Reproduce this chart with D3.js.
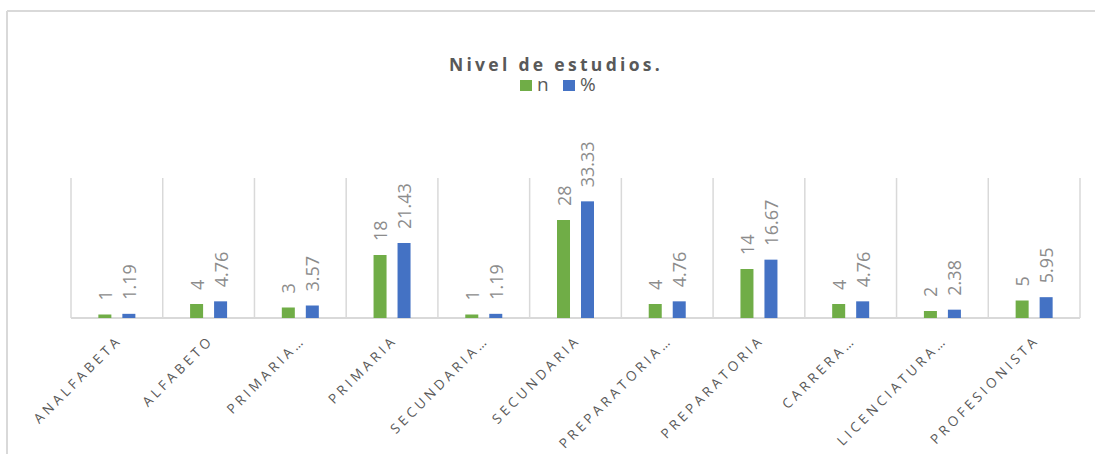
<!DOCTYPE html>
<html>
<head>
<meta charset="utf-8">
<script src="https://cdn.jsdelivr.net/npm/d3@7"></script>
<style>
  html, body { margin: 0; padding: 0; background: #ffffff; }
  svg { display: block; }
</style>
</head>
<body>
<svg id="chart" width="1095" height="454"></svg>
<script>
// Nivel de estudios: count (n) and share (%) per education level
const categories = ["ANALFABETA", "ALFABETO", "PRIMARIA…", "PRIMARIA", "SECUNDARIA…", "SECUNDARIA",
                    "PREPARATORIA…", "PREPARATORIA", "CARRERA…", "LICENCIATURA…", "PROFESIONISTA"];
const seriesNames = ["n", "%"];
const nValues = [1, 4, 3, 18, 1, 28, 4, 14, 4, 2, 5];
const pctValues = [1.19, 4.76, 3.57, 21.43, 1.19, 33.33, 4.76, 16.67, 4.76, 2.38, 5.95];
const pctLabels = ["1.19", "4.76", "3.57", "21.43", "1.19", "33.33", "4.76", "16.67", "4.76", "2.38", "5.95"];
const colors = ["#70ad47", "#4472c4"];

const svg = d3.select("#chart");
const plot = { left: 71, right: 1080, top: 178, bottom: 318 };
const gridColor = "#d9d9d9";
const textGray = "#595959";
const labelGray = "#8c8c8c";

// Outer frame (top and left edges)
svg.append("line").attr("x1", 7).attr("x2", 1095).attr("y1", 11).attr("y2", 11)
  .attr("stroke", gridColor).attr("stroke-width", 2);
svg.append("line").attr("x1", 7).attr("x2", 7).attr("y1", 11).attr("y2", 454)
  .attr("stroke", gridColor).attr("stroke-width", 2);

const x0 = d3.scaleBand().domain(categories).range([plot.left, plot.right]).padding(0);
const bw = x0.bandwidth();
const x1 = d3.scaleBand().domain(seriesNames).range([bw / 2 - 18.5, bw / 2 + 18.5]).paddingInner(0.458).paddingOuter(0);
const y = d3.scaleLinear().domain([0, 40]).range([plot.bottom, plot.top]);

// Category separators
const seps = categories.map(c => x0(c)).concat([plot.right]);
svg.append("g").selectAll("line").data(seps).join("line")
  .attr("x1", d => d).attr("x2", d => d)
  .attr("y1", y(40)).attr("y2", y(0))
  .attr("stroke", gridColor).attr("stroke-width", 1.5);

// Baseline
svg.append("line").attr("x1", plot.left).attr("x2", plot.right)
  .attr("y1", y(0)).attr("y2", y(0))
  .attr("stroke", gridColor).attr("stroke-width", 2);

const rows = categories.map((c, i) => ({
  cat: c,
  vals: [
    { s: "n", v: nValues[i], label: String(nValues[i]), color: colors[0] },
    { s: "%", v: pctValues[i], label: pctLabels[i], color: colors[1] }
  ]
}));

const groups = svg.append("g").selectAll("g").data(rows).join("g")
  .attr("transform", d => `translate(${x0(d.cat)},0)`);

groups.selectAll("rect").data(d => d.vals).join("rect")
  .attr("x", d => x1(d.s))
  .attr("width", x1.bandwidth())
  .attr("y", d => y(d.v))
  .attr("height", d => y(0) - y(d.v))
  .attr("fill", d => d.color);

// Value labels, rotated
groups.selectAll("text").data(d => d.vals).join("text")
  .attr("transform", d => `translate(${x1(d.s) + x1.bandwidth() / 2},${y(d.v) - 14}) rotate(-90)`)
  .attr("text-anchor", "start")
  .attr("dominant-baseline", "central")
  .attr("font-family", "'Open Sans', sans-serif")
  .attr("font-size", 18)
  .attr("fill", labelGray)
  .text(d => d.label);

// Category labels at -45°
svg.append("g").selectAll("text").data(categories).join("text")
  .attr("transform", d => `translate(${x0(d) + bw / 2 - 2},${plot.bottom + 15}) rotate(-45)`)
  .attr("text-anchor", "end")
  .attr("dominant-baseline", "hanging")
  .attr("font-family", "'Open Sans', sans-serif")
  .attr("font-size", 13.5)
  .attr("letter-spacing", 3.6)
  .attr("fill", textGray)
  .text(d => d);

// Title
svg.append("text")
  .attr("x", 556).attr("y", 71)
  .attr("text-anchor", "middle")
  .attr("font-family", "'Open Sans', sans-serif")
  .attr("font-size", 17.5)
  .attr("font-weight", "bold")
  .attr("letter-spacing", 3.3)
  .attr("fill", textGray)
  .text("Nivel de estudios.");

// Legend
const legendItems = [
  { name: seriesNames[0], color: colors[0], x: 520 },
  { name: seriesNames[1], color: colors[1], x: 563 }
];
const lg = svg.append("g").selectAll("g").data(legendItems).join("g")
  .attr("transform", d => `translate(${d.x},80)`);
lg.append("rect").attr("width", 12).attr("height", 11).attr("fill", d => d.color);
lg.append("text")
  .attr("x", 17).attr("y", 11)
  .attr("font-family", "'Open Sans', sans-serif")
  .attr("font-size", 19)
  .attr("fill", textGray)
  .text(d => d.name);
</script>
</body>
</html>
